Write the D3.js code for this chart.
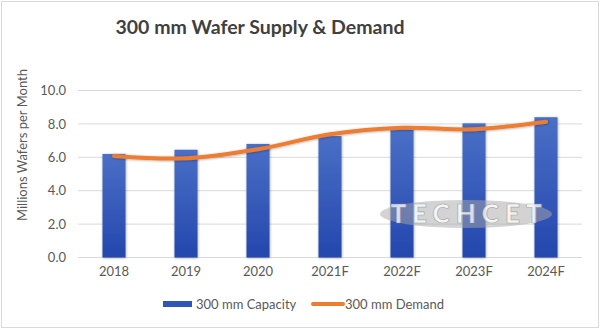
<!DOCTYPE html>
<html>
<head>
<meta charset="utf-8">
<script src="https://cdn.jsdelivr.net/npm/d3@7"></script>
<style>
  body { margin: 0; background: #fff; }
  text { font-family: Lato, "Open Sans", "Liberation Sans", sans-serif; fill: #595959; }
  .grid-line { stroke: #d9d9d9; stroke-width: 1; }
</style>
</head>
<body>
<div class="app"></div>
<script>
'use strict'

var width = 600;
var height = 329;

var categories = ["2018", "2019", "2020", "2021F", "2022F", "2023F", "2024F"];
var capacity = [6.2, 6.45, 6.8, 7.27, 7.68, 8.03, 8.4];
var demand = [6.08, 5.94, 6.48, 7.38, 7.77, 7.68, 8.13];
var yTicks = [0, 2, 4, 6, 8, 10];
var seriesNames = ["300 mm Capacity", "300 mm Demand"];

var plot = {left: 78, right: 582, top: 90.5, bottom: 257.5};

var svg = d3.select(".app")
            .append("svg")
            .attr("width", width)
            .attr("height", height);

var defs = svg.append("defs");
var grad = defs.append("linearGradient")
               .attr("id", "barGrad")
               .attr("x1", 0).attr("y1", 0).attr("x2", 0).attr("y2", 1);
grad.append("stop").attr("offset", "0%").attr("stop-color", "#4a6fc6");
grad.append("stop").attr("offset", "100%").attr("stop-color", "#2447ad");

var shadow = defs.append("filter").attr("id", "shadow")
                 .attr("x", "-30%").attr("y", "-10%").attr("width", "160%").attr("height", "120%");
shadow.append("feDropShadow").attr("dx", 0.5).attr("dy", 0.5)
      .attr("stdDeviation", 0.8).attr("flood-color", "#000").attr("flood-opacity", 0.35);

// рамка
svg.append("rect")
   .attr("x", 1.5).attr("y", 1.5)
   .attr("width", width - 3).attr("height", height - 3)
   .attr("fill", "#fff").attr("stroke", "#d9d9d9");

// заголовок
svg.append("text")
   .attr("x", 260).attr("y", 34)
   .attr("text-anchor", "middle")
   .style("font-size", "19.5px").style("font-weight", "bold")
   .style("fill", "#404040")
   .text("300 mm Wafer Supply & Demand");

var scaleX = d3.scaleBand()
               .domain(categories)
               .range([plot.left, plot.right])
               .paddingInner(0.68).paddingOuter(0.34);

var scaleY = d3.scaleLinear()
               .domain([0, 10])
               .range([plot.bottom, plot.top]);

// горизонтальные линии
svg.append("g").selectAll("line")
   .data(yTicks)
   .join("line")
   .attr("class", "grid-line")
   .attr("x1", plot.left).attr("x2", plot.right)
   .attr("y1", function(d){ return scaleY(d); })
   .attr("y2", function(d){ return scaleY(d); });

var yAxis = d3.axisLeft(scaleY).tickValues(yTicks).tickFormat(d3.format(".1f")).tickSize(0).tickPadding(12);
var gy = svg.append("g")
   .attr("transform", "translate(" + plot.left + ",0)")
   .call(yAxis);
gy.select(".domain").remove();
gy.selectAll("text").style("font-size", "13px").style("fill", "#595959")
  .style("font-family", "Lato, sans-serif");

var xAxis = d3.axisBottom(scaleX).tickSize(0).tickPadding(9);
var gx = svg.append("g")
   .attr("transform", "translate(0," + plot.bottom + ")")
   .call(xAxis);
gx.select(".domain").remove();
gx.selectAll("text").style("font-size", "13px").style("fill", "#595959")
  .style("font-family", "Lato, sans-serif");

// подпись оси Y
svg.append("text")
   .attr("transform", "translate(27,145) rotate(-90)")
   .attr("text-anchor", "middle")
   .style("font-size", "13px")
   .text("Millions Wafers per Month");

// столбцы
svg.append("g").selectAll("rect")
   .data(capacity)
   .join("rect")
   .attr("x", function(d, i){ return scaleX(categories[i]); })
   .attr("width", scaleX.bandwidth())
   .attr("y", function(d){ return scaleY(d); })
   .attr("height", function(d){ return plot.bottom - scaleY(d); })
   .attr("fill", "url(#barGrad)")
   .attr("filter", "url(#shadow)");

// водяной знак
var wm = svg.append("g");
wm.append("ellipse")
  .attr("cx", 466).attr("cy", 214)
  .attr("rx", 86).attr("ry", 14)
  .attr("fill", "#a8a8a8").attr("opacity", 0.5);
wm.append("text")
  .attr("x", 469).attr("y", 223)
  .attr("text-anchor", "middle")
  .style("font-size", "26px").style("font-weight", "900")
  .style("letter-spacing", "6px")
  .style("fill", "#ffffff").style("fill-opacity", 0.75)
  .style("stroke", "#8c8c8c").style("stroke-width", 0.7).style("stroke-opacity", 0.7)
  .text("TECHCET");

// линия спроса
var line = d3.line()
             .curve(d3.curveCatmullRom.alpha(0.5))
             .x(function(d, i){ return scaleX(categories[i]) + scaleX.bandwidth() / 2; })
             .y(function(d){ return scaleY(d); });

svg.append("path")
   .attr("d", line(demand))
   .attr("fill", "none")
   .attr("stroke", "#ed7d31")
   .attr("stroke-width", 4)
   .attr("stroke-linecap", "round")
   .attr("filter", "url(#shadow)");

// легенда
var lg = svg.append("g");
lg.append("rect")
  .attr("x", 163).attr("y", 301).attr("width", 29).attr("height", 6)
  .attr("fill", "#2f55b8");
lg.append("text")
  .attr("x", 196).attr("y", 308.5)
  .style("font-size", "13px")
  .text(seriesNames[0]);
lg.append("line")
  .attr("x1", 313).attr("x2", 343).attr("y1", 304).attr("y2", 304)
  .attr("stroke", "#ed7d31").attr("stroke-width", 4).attr("stroke-linecap", "round");
lg.append("text")
  .attr("x", 345).attr("y", 308.5)
  .style("font-size", "13px")
  .text(seriesNames[1]);
</script>
</body>
</html>
